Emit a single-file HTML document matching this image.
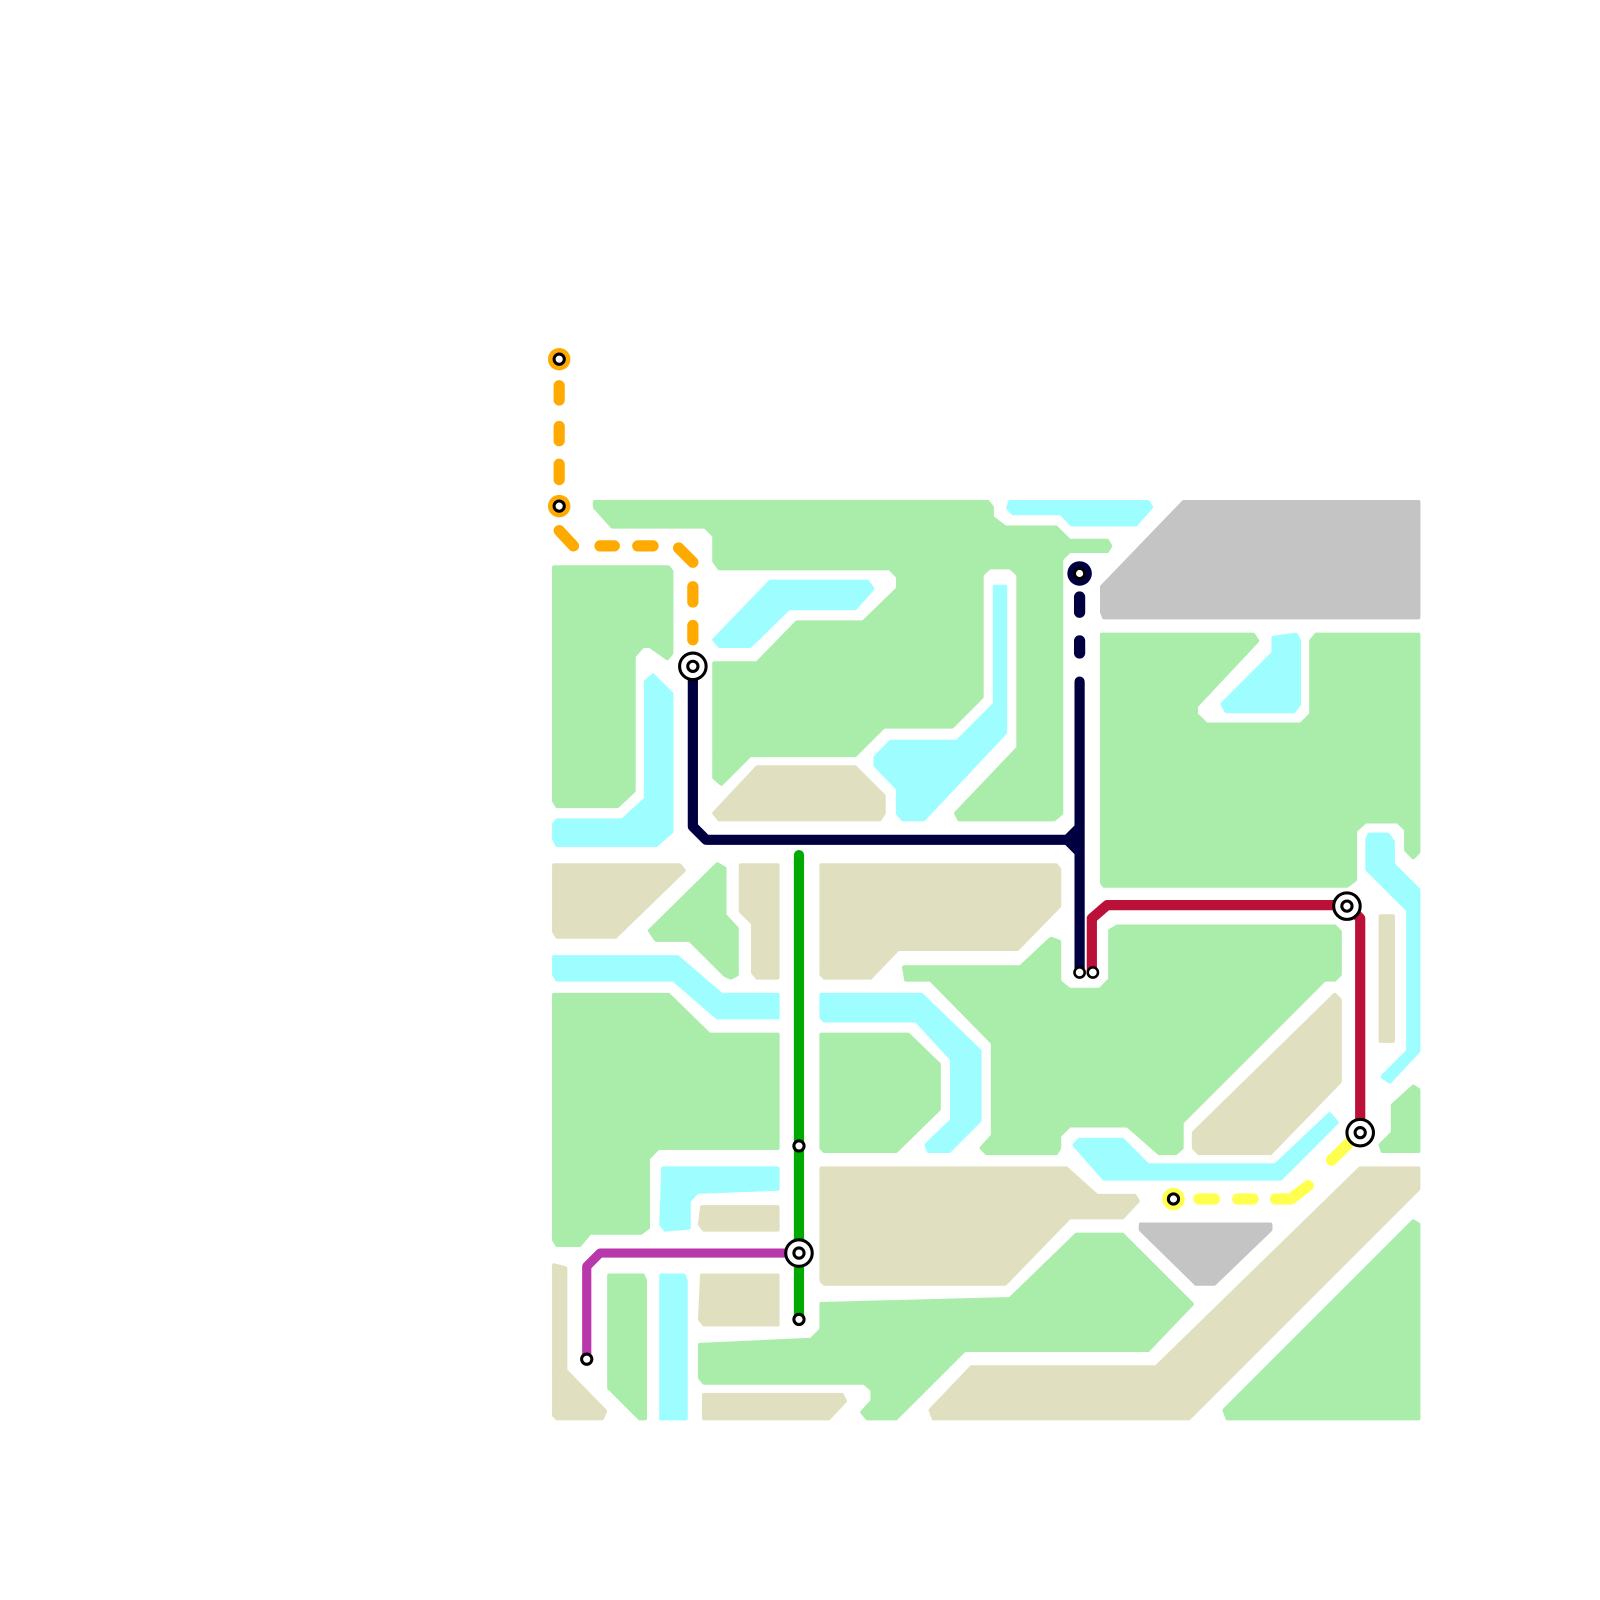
<!DOCTYPE html>
<html><head><meta charset="utf-8"><style>html,body{margin:0;padding:0;background:#fff}svg{display:block}</style></head>
<body>
<svg width="1600" height="1600" viewBox="0 0 1568 1568" xmlns="http://www.w3.org/2000/svg">
<g stroke-linejoin="round" stroke-width="4">
<g fill="#aaecaa" stroke="#aaecaa">
<polygon points="583,492 968,492 972,497 972,507 985,517 1035,517 1048,530 1085,530 1088,535 1085,540 1048,540 1040,548 1040,797 1033,803 940,803 937,797 998,733 998,563 990,556 970,556 962,563 962,683 933,712 866,712 838,740 735,740 707,768 700,762 700,650 742,650 781,610 846,610 880,577 880,565 872,557 705,557 700,550 700,525 691,516 600,516 583,497"/>
<polygon points="543,556 655,556 658,560 658,640 654,645 637,633 630,633 621,643 621,775 605,790 546,790 543,785"/>
<polygon points="637,912 703,847 710,851 710,897 722,910 722,955 716,958 710,955 676,921 643,921"/>
<polygon points="543,975 655,975 695,1014 762,1014 762,1125 645,1125 635,1135 635,1203 628,1208 578,1208 568,1220 546,1220 543,1215"/>
<polygon points="805,1014 890,1014 920,1043 920,1087 878,1128 808,1128 805,1125"/>
<polygon points="886,948 1000,948 1030,920 1038,923 1038,962 1048,970 1078,970 1088,960 1088,912 1095,908 1308,908 1313,913 1313,955 1308,960 1298,960 1158,1100 1158,1125 1152,1130 1136,1130 1105,1103 1048,1103 1038,1113 1038,1125 1035,1130 967,1130 962,1125 973,1113 973,1022 912,960 888,960"/>
<polygon points="805,1278 990,1273 1055,1210 1100,1210 1168,1278 1125,1323 945,1323 878,1390 850,1390 845,1384 855,1373 855,1362 847,1355 690,1355 686,1350 686,1318 795,1313 805,1303"/>
<polygon points="1200,1382 1385,1197 1390,1200 1390,1390 1203,1390"/>
<polygon points="597,1250 630,1250 632,1255 632,1390 627,1390 597,1360"/>
<polygon points="1080,622 1228,622 1232,628 1172,692 1172,700 1182,710 1275,710 1285,700 1285,628 1290,622 1390,622 1390,835 1385,840 1378,833 1378,813 1370,805 1338,805 1328,814 1328,862 1320,868 1082,868 1080,865"/>
<polygon points="1365,1083 1385,1065 1390,1068 1390,1128 1355,1128 1353,1122 1365,1110"/>
</g>
<g fill="#9efeff" stroke="#9efeff">
<polygon points="700,627 755,570 850,570 855,577 838,596 773,596 735,633 705,633"/>
<polygon points="975,575 985,575 985,718 905,803 885,803 880,797 880,773 858,750 858,742 873,727 938,727 975,690"/>
<polygon points="640,662 658,680 658,815 643,828 546,828 543,822 543,808 546,804 610,804 633,783 633,668"/>
<polygon points="543,938 664,938 707,975 762,975 762,997 703,997 660,960 546,960 543,955"/>
<polygon points="805,975 903,975 960,1030 960,1098 930,1128 910,1128 908,1122 933,1098 933,1038 898,1000 808,1000 805,997"/>
<polygon points="1053,1122 1058,1117 1100,1117 1125,1142 1250,1142 1303,1092 1310,1100 1255,1155 1082,1155"/>
<polygon points="650,1145 762,1145 762,1165 683,1168 675,1177 675,1203 652,1205 648,1200"/>
<polygon points="648,1250 670,1250 672,1255 672,1390 648,1390"/>
<polygon points="990,492 1125,492 1128,497 1113,514 1050,514 1040,503 993,503 988,498"/>
<polygon points="1248,625 1270,622 1273,628 1273,690 1268,697 1202,697 1198,690 1248,640"/>
<polygon points="1342,818 1360,818 1365,825 1365,847 1390,872 1390,1030 1362,1060 1355,1055 1380,1030 1380,892 1340,852 1340,823"/>
</g>
<g fill="#e0dfc0" stroke="#e0dfc0">
<polygon points="700,797 742,752 838,752 866,780 866,797 862,803 705,803"/>
<polygon points="543,848 666,848 670,853 603,918 546,918 543,913"/>
<polygon points="726,848 762,848 762,958 742,958 738,953 738,905 726,893"/>
<polygon points="805,848 1035,848 1038,852 1038,888 997,930 880,930 853,958 808,958 805,955"/>
<polygon points="1170,1110 1308,975 1313,980 1313,1060 1245,1130 1175,1130 1170,1125"/>
<polygon points="688,1183 762,1183 762,1205 690,1205 686,1200"/>
<polygon points="805,1145 1045,1145 1075,1172 1112,1172 1115,1177 1100,1193 1048,1193 985,1258 808,1258 805,1255"/>
<polygon points="688,1250 762,1250 762,1298 690,1298 686,1293"/>
<polygon points="690,1367 825,1367 828,1373 812,1390 690,1390"/>
<polygon points="912,1382 952,1340 1133,1340 1333,1145 1390,1145 1390,1165 1165,1390 915,1390"/>
<polygon points="543,1240 554,1243 554,1343 593,1383 590,1390 546,1390 543,1387"/>
<polygon points="1353,898 1365,898 1365,1020 1353,1020"/>
</g>
<g fill="#c4c4c4" stroke="#c4c4c4">
<polygon points="1160,492 1390,492 1390,605 1082,605 1080,600 1080,575"/>
<polygon points="1118,1200 1245,1200 1245,1205 1190,1258 1172,1258 1118,1205"/>
</g>
</g>
<g fill="none" stroke-linecap="round" stroke-linejoin="round">
<path d="M548,378V392M548,418V432M548,455V470M548,520L562,535M588,535H602M625,535H640M665,537L679,551M679,575V590M679,613V627" stroke="#ffaa00" stroke-width="11"/>
<path d="M783,838V1293" stroke="#00aa00" stroke-width="10"/>
<path d="M783,1228H588L575,1241V1332" stroke="#b837aa" stroke-width="9"/>
<path d="M1070,952V900L1085,887H1320L1333,900V1110" stroke="#bb1138" stroke-width="10"/>
<path d="M679,653V810L692,823H1046L1058,811M1046,823L1058,835M1058,668V952" stroke="#000040" stroke-width="10"/>
<path d="M1058,585V600M1058,628V640" stroke="#000040" stroke-width="11"/>
<path d="M1175,1175H1190M1213,1175H1228M1250,1175H1265L1282,1162M1305,1137L1322,1120" stroke="#ffff4d" stroke-width="11"/>
</g>
<g stroke="#000" fill="#fff">
<circle cx="548" cy="352" r="11" fill="#ffaa00" stroke="none"/><circle cx="548" cy="352" r="5" stroke-width="3"/>
<circle cx="548" cy="496" r="11" fill="#ffaa00" stroke="none"/><circle cx="548" cy="496" r="5" stroke-width="3"/>
<circle cx="1058" cy="562" r="12" fill="#000040" stroke="none"/><circle cx="1058" cy="562" r="5" stroke-width="3"/>
<circle cx="1150" cy="1175" r="11" fill="#ffff4d" stroke="none"/><circle cx="1150" cy="1175" r="5" stroke-width="3"/>
<circle cx="679" cy="653" r="13" stroke-width="3"/><circle cx="679" cy="653" r="5" stroke-width="3"/>
<circle cx="1320" cy="888" r="13" stroke-width="3"/><circle cx="1320" cy="888" r="5" stroke-width="3"/>
<circle cx="1333" cy="1110" r="13" stroke-width="3"/><circle cx="1333" cy="1110" r="5" stroke-width="3"/>
<circle cx="783" cy="1228" r="13" stroke-width="3"/><circle cx="783" cy="1228" r="5" stroke-width="3"/>
<circle cx="783" cy="1123" r="5" stroke-width="3"/>
<circle cx="783" cy="1293" r="5" stroke-width="3"/>
<circle cx="575" cy="1332" r="5" stroke-width="3"/>
<circle cx="1058" cy="953" r="5" stroke-width="2.5"/>
<circle cx="1071" cy="953" r="5" stroke-width="2.5"/>
</g>
</svg>
</body></html>
